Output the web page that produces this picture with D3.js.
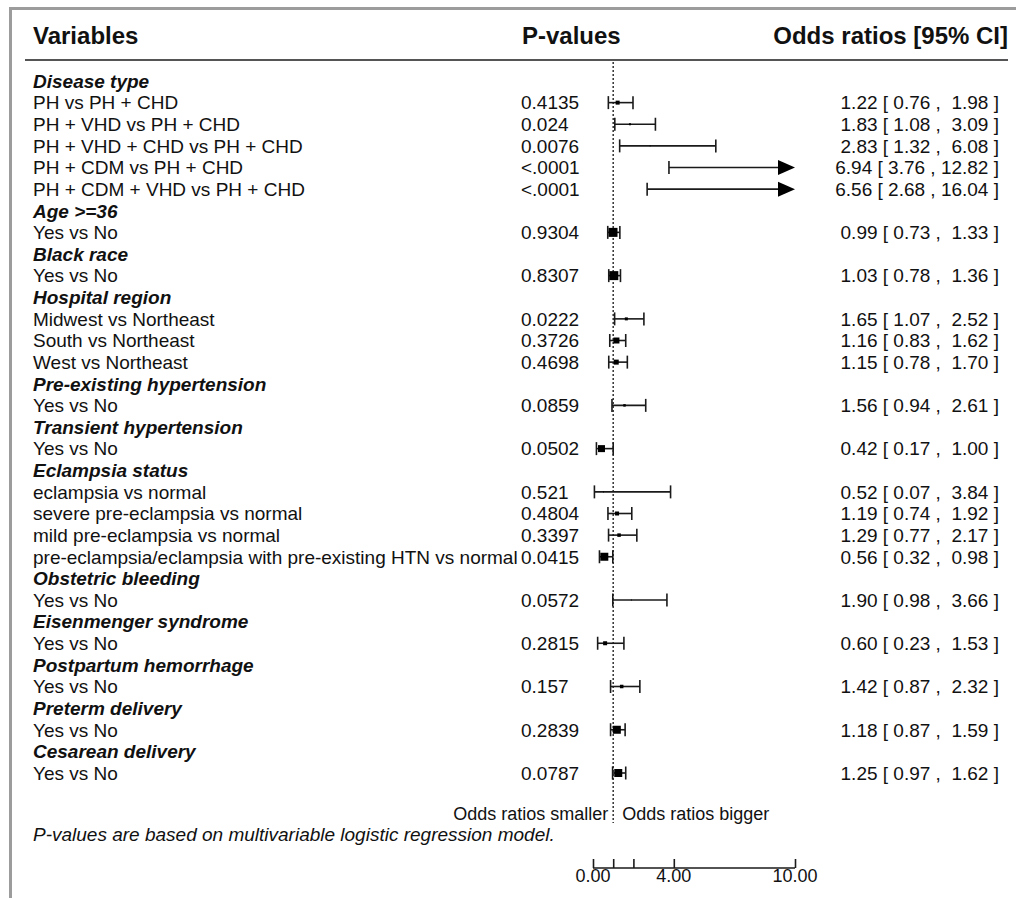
<!DOCTYPE html>
<html>
<head>
<meta charset="utf-8">
<script src="https://cdn.jsdelivr.net/npm/d3@7"></script>
<style>
  html, body { margin: 0; padding: 0; background: #fff; }
  svg text { font-family: "Liberation Sans", Arial, sans-serif; fill: #111; }
</style>
</head>
<body>
<svg id="chart" width="1016" height="898"></svg>
<script>
// rows of the table, top to bottom; group headings have no values
const rowLabels = [
  "Disease type",
  "PH vs PH + CHD",
  "PH + VHD vs PH + CHD",
  "PH + VHD + CHD vs PH + CHD",
  "PH + CDM vs PH + CHD",
  "PH + CDM + VHD vs PH + CHD",
  "Age >=36",
  "Yes vs No",
  "Black race",
  "Yes vs No",
  "Hospital region",
  "Midwest vs Northeast",
  "South vs Northeast",
  "West vs Northeast",
  "Pre-existing hypertension",
  "Yes vs No",
  "Transient hypertension",
  "Yes vs No",
  "Eclampsia status",
  "eclampsia vs normal",
  "severe pre-eclampsia vs normal",
  "mild pre-eclampsia vs normal",
  "pre-eclampsia/eclampsia with pre-existing HTN vs normal",
  "Obstetric bleeding",
  "Yes vs No",
  "Eisenmenger syndrome",
  "Yes vs No",
  "Postpartum hemorrhage",
  "Yes vs No",
  "Preterm delivery",
  "Yes vs No",
  "Cesarean delivery",
  "Yes vs No"
];
const isGroup = [1,0,0,0,0,0,1,0,1,0,1,0,0,0,1,0,1,0,1,0,0,0,0,1,0,1,0,1,0,1,0,1,0];

const pValues = [null, "0.4135", "0.024", "0.0076", "<.0001", "<.0001",
  null, "0.9304", null, "0.8307", null, "0.0222", "0.3726", "0.4698",
  null, "0.0859", null, "0.0502", null, "0.521", "0.4804", "0.3397", "0.0415",
  null, "0.0572", null, "0.2815", null, "0.157", null, "0.2839", null, "0.0787"];

const oddsRatio = [null, 1.22, 1.83, 2.83, 6.94, 6.56,
  null, 0.99, null, 1.03, null, 1.65, 1.16, 1.15,
  null, 1.56, null, 0.42, null, 0.52, 1.19, 1.29, 0.56,
  null, 1.90, null, 0.60, null, 1.42, null, 1.18, null, 1.25];
const ciLower = [null, 0.76, 1.08, 1.32, 3.76, 2.68,
  null, 0.73, null, 0.78, null, 1.07, 0.83, 0.78,
  null, 0.94, null, 0.17, null, 0.07, 0.74, 0.77, 0.32,
  null, 0.98, null, 0.23, null, 0.87, null, 0.87, null, 0.97];
const ciUpper = [null, 1.98, 3.09, 6.08, 12.82, 16.04,
  null, 1.33, null, 1.36, null, 2.52, 1.62, 1.70,
  null, 2.61, null, 1.00, null, 3.84, 1.92, 2.17, 0.98,
  null, 3.66, null, 1.53, null, 2.32, null, 1.59, null, 1.62];
// square marker side (weight)
const markerSize = [null, 4, 2, 1, 0, 0,
  null, 9, null, 9, null, 3, 6, 5,
  null, 2.5, null, 7, null, 1, 4, 3.5, 8,
  null, 1, null, 4, null, 3.5, null, 8, null, 8];

const axisTicks = [0, 1, 2, 4, 10];
const axisLabels = [0, 4, 10];

const svg = d3.select("#chart");
const W = 1016;

// frame
svg.append("rect")
  .attr("x", 10.5).attr("y", 8.5)
  .attr("width", W + 20).attr("height", 920)
  .attr("fill", "none").attr("stroke", "#9c9c9c").attr("stroke-width", 3);

const fs = 19;
const rowIdx = d3.range(rowLabels.length);
const y = d3.scalePoint().domain(rowIdx).range([81, 773]);
const x = d3.scaleLinear().domain([0, 10]).range([593, 795]);

const xLabel = 33, xP = 521, xOR = 999;

// header
const head = svg.append("g").attr("font-weight", "bold").attr("font-size", 24);
head.append("text").attr("x", xLabel).attr("y", 44).text("Variables");
head.append("text").attr("x", 522).attr("y", 44).text("P-values");
head.append("text").attr("x", 1008).attr("y", 44).attr("text-anchor", "end").text("Odds ratios [95% CI]");
svg.append("line")
  .attr("x1", 25).attr("x2", 1008).attr("y1", 60).attr("y2", 60)
  .attr("stroke", "#555").attr("stroke-width", 2);

// reference line at OR = 1
svg.append("line")
  .attr("x1", x(1)).attr("x2", x(1)).attr("y1", 62).attr("y2", 823)
  .attr("stroke", "#333").attr("stroke-width", 1.5)
  .attr("stroke-dasharray", "2,2");

// text columns
const rows = svg.append("g").attr("font-size", fs);
rows.selectAll("text.lab")
  .data(rowIdx)
  .enter()
  .append("text")
  .attr("class", "lab")
  .attr("x", xLabel)
  .attr("y", (i) => y(i) + 6.8)
  .attr("font-weight", (i) => (isGroup[i] ? "bold" : null))
  .attr("font-style", (i) => (isGroup[i] ? "italic" : null))
  .text((i) => rowLabels[i]);

const dataIdx = rowIdx.filter((i) => !isGroup[i]);

rows.selectAll("text.pv")
  .data(dataIdx)
  .enter()
  .append("text")
  .attr("class", "pv")
  .attr("x", xP)
  .attr("y", (i) => y(i) + 6.8)
  .text((i) => pValues[i]);

const f2 = d3.format(".2f");
function pad(v) {
  const s = f2(v);
  return s.length < 5 ? " " + s : s;
}
rows.selectAll("text.or")
  .data(dataIdx)
  .enter()
  .append("text")
  .attr("class", "or")
  .attr("x", xOR)
  .attr("y", (i) => y(i) + 6.8)
  .attr("text-anchor", "end")
  .style("white-space", "pre")
  .text((i) => `${f2(oddsRatio[i])} [ ${f2(ciLower[i])} , ${pad(ciUpper[i])} ]`);

// forest marks
const marks = svg.append("g").attr("stroke", "#1a1a1a").attr("stroke-width", 1.6);
const capH = 6.5;
const maxX = x.domain()[1];

dataIdx.forEach((i) => {
  const cy = y(i);
  const lo = ciLower[i];
  const hi = ciUpper[i];
  const clipped = hi > maxX;
  const x1 = x(lo);
  const x2 = x(Math.min(hi, maxX));

  marks.append("line")
    .attr("x1", x1).attr("x2", clipped ? x2 - 14 : x2)
    .attr("y1", cy).attr("y2", cy);
  marks.append("line")
    .attr("x1", x1).attr("x2", x1)
    .attr("y1", cy - capH).attr("y2", cy + capH);

  if (clipped) {
    marks.append("path")
      .attr("d", `M${x2},${cy} L${x2 - 17},${cy - 7.5} L${x2 - 17},${cy + 7.5} Z`)
      .attr("fill", "#000").attr("stroke", "none");
  } else {
    marks.append("line")
      .attr("x1", x2).attr("x2", x2)
      .attr("y1", cy - capH).attr("y2", cy + capH);
  }

  const s = markerSize[i];
  if (s > 0 && !clipped) {
    marks.append("rect")
      .attr("x", x(oddsRatio[i]) - s / 2)
      .attr("y", cy - s / 2)
      .attr("width", s).attr("height", s)
      .attr("fill", "#000").attr("stroke", "none");
  }
});

// footnotes
const foot = svg.append("g").attr("font-size", 18);
foot.append("text").attr("x", x(1) - 5).attr("y", 820).attr("text-anchor", "end").text("Odds ratios smaller");
foot.append("text").attr("x", x(1) + 9).attr("y", 820).text("Odds ratios bigger");
foot.append("text").attr("x", xLabel).attr("y", 841).attr("font-style", "italic").attr("font-size", 19)
  .text("P-values are based on multivariable logistic regression model.");

// axis
const axisY = 868;
const axisG = svg.append("g").attr("transform", `translate(0,${axisY})`);
axisG.call(
  d3.axisTop(x)
    .tickValues(axisTicks)
    .tickSize(9)
    .tickFormat("")
);
axisG.select(".domain").attr("d", `M${x(0)},0H${x(10)}`).attr("stroke", "#1a1a1a").attr("stroke-width", 1.6);
axisG.selectAll(".tick line").attr("stroke", "#1a1a1a").attr("stroke-width", 1.6);

svg.append("g")
  .attr("font-size", 18)
  .selectAll("text")
  .data(axisLabels)
  .enter()
  .append("text")
  .attr("x", (d) => x(d))
  .attr("y", 882)
  .attr("text-anchor", "middle")
  .text((d) => f2(d));
</script>
</body>
</html>
